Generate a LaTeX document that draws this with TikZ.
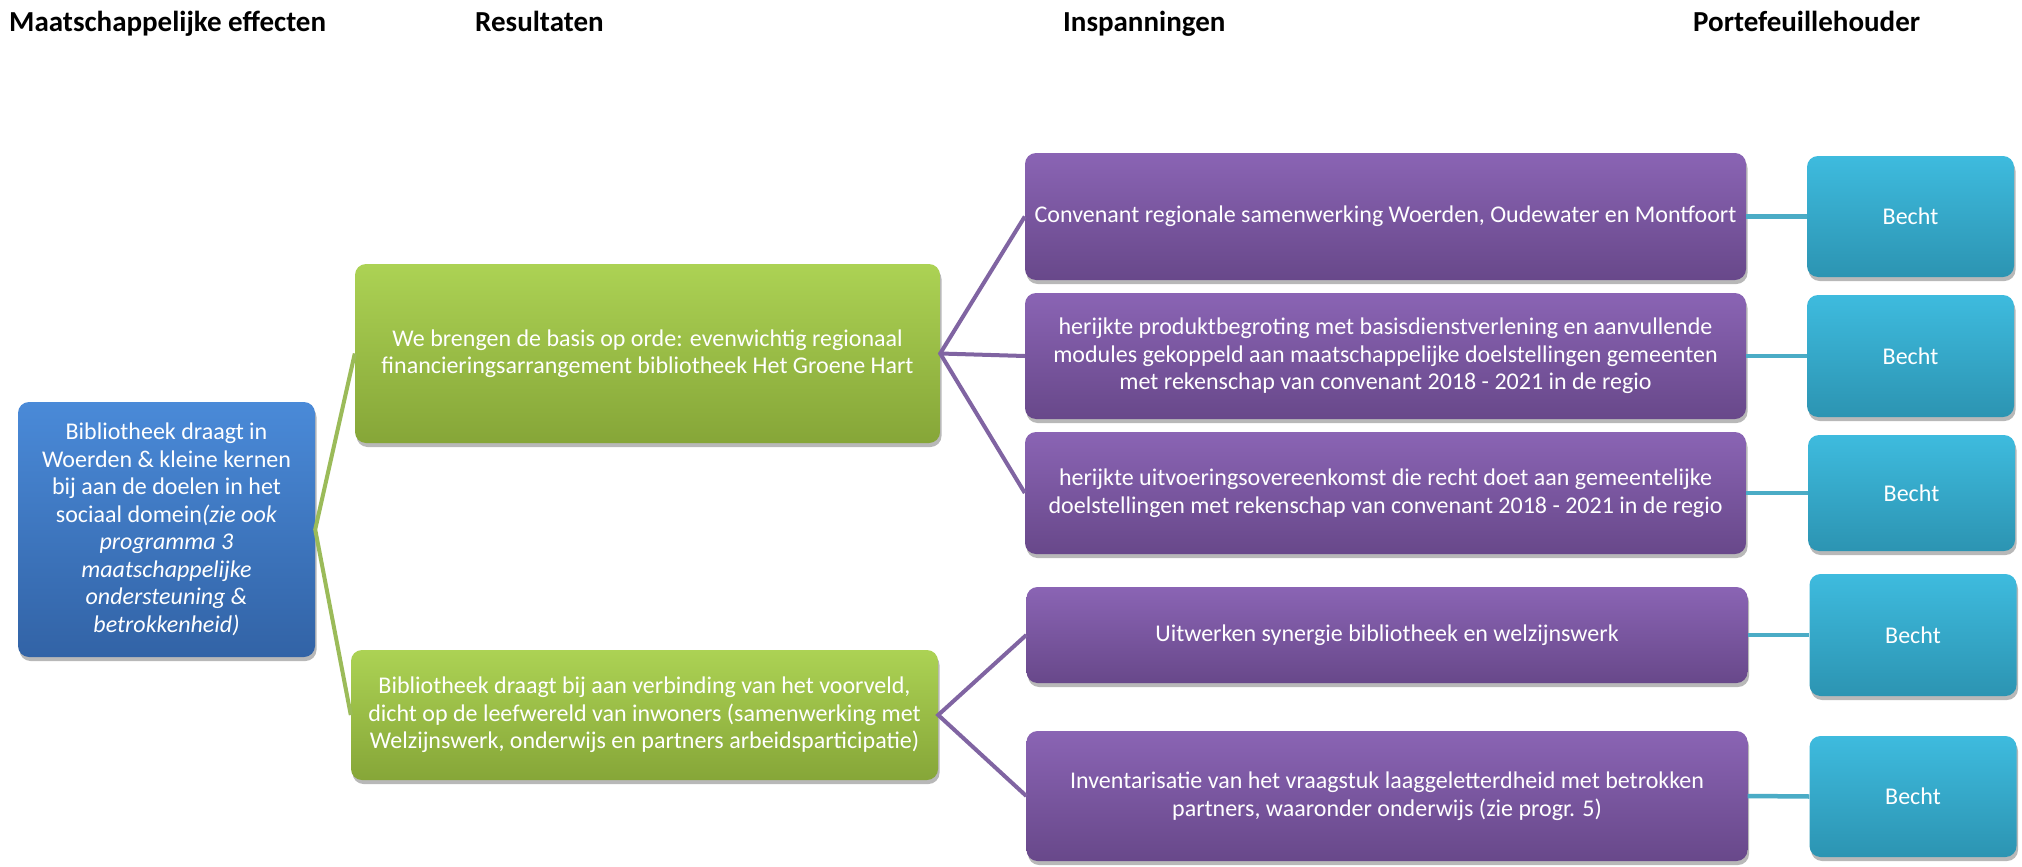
\documentclass[tikz,border=0pt]{standalone}
\usepackage{fontspec}
\setmainfont{Carlito}
\usetikzlibrary{shadows}
\definecolor{bluetop}{RGB}{74,138,216}
\definecolor{bluebot}{RGB}{50,99,166}
\definecolor{greentop}{RGB}{172,210,84}
\definecolor{greenbot}{RGB}{134,166,56}
\definecolor{purpletop}{RGB}{138,100,180}
\definecolor{purplebot}{RGB}{104,72,138}
\definecolor{tealtop}{RGB}{62,187,222}
\definecolor{tealbot}{RGB}{44,148,178}
\definecolor{greenline}{RGB}{155,187,89}
\definecolor{purpleline}{RGB}{128,100,162}
\definecolor{tealline}{RGB}{75,172,198}
\tikzset{
  box/.style={rounded corners=11pt, inner sep=0pt, align=center, text=white,
    font=\fontsize{24}{27.5}\selectfont,
    drop shadow={shadow xshift=1.5pt, shadow yshift=-4pt, opacity=0.28, fill=black}},
  bluebox/.style={box, top color=bluetop, bottom color=bluebot},
  greenbox/.style={box, top color=greentop, bottom color=greenbot},
  purplebox/.style={box, top color=purpletop, bottom color=purplebot, minimum width=721pt},
  tealbox/.style={box, top color=tealtop, bottom color=tealbot, minimum width=207pt},
  header/.style={anchor=base west, inner sep=0pt, font=\fontsize{29}{32}\selectfont\bfseries},
  gline/.style={draw=greenline, line width=4pt},
  pline/.style={draw=purpleline, line width=4pt},
  tline/.style={draw=tealline, line width=4.5pt},
}
\begin{document}
\begin{tikzpicture}[x=1pt, y=-1pt]
\useasboundingbox[fill=white] (0,0) rectangle (2022,867);

\node[header] (h1) at (9,32) {Maatschappelijke effecten};
\node[header] (h2) at (475,32) {Resultaten};
\node[header] (h3) at (1063,32) {Inspanningen};
\node[header] (h4) at (1693,32) {Portefeuillehouder};

\node[bluebox, minimum width=297pt, minimum height=255pt] (b) at (166.5,529.5)
  {Bibliotheek draagt in\\Woerden \& kleine kernen\\bij aan de doelen in het\\sociaal domein\textit{(zie ook}\\\textit{programma 3}\\\textit{maatschappelijke}\\\textit{ondersteuning \&}\\\textit{betrokkenheid)}};

\node[greenbox, minimum width=585pt, minimum height=179pt] (g1) at (647.5,353.5)
  {We brengen de basis op orde: evenwichtig regionaal\\financieringsarrangement bibliotheek Het Groene Hart};
\node[greenbox, minimum width=587pt, minimum height=130pt] (g2) at (644.5,715)
  {Bibliotheek draagt bij aan verbinding van het voorveld,\\dicht op de leefwereld van inwoners (samenwerking met\\Welzijnswerk, onderwijs en partners arbeidsparticipatie)};

\node[purplebox, minimum height=127pt] (p1) at (1385.5,216.5)
  {Convenant regionale samenwerking Woerden, Oudewater en Montfoort};
\node[purplebox, minimum height=126pt] (p2) at (1385.5,356)
  {herijkte produktbegroting met basisdienstverlening en aanvullende\\modules gekoppeld aan maatschappelijke doelstellingen gemeenten\\met rekenschap van convenant 2018 - 2021 in de regio};
\node[purplebox, minimum height=122pt] (p3) at (1385.5,493)
  {herijkte uitvoeringsovereenkomst die recht doet aan gemeentelijke\\doelstellingen met rekenschap van convenant 2018 - 2021 in de regio};
\node[purplebox, minimum height=96pt] (p4) at (1387,635)
  {Uitwerken synergie bibliotheek en welzijnswerk};
\node[purplebox, minimum height=130pt] (p5) at (1387,796)
  {Inventarisatie van het vraagstuk laaggeletterdheid met betrokken\\partners, waaronder onderwijs (zie progr. 5)};

\node[tealbox, minimum height=121pt] (t1) at (1910.5,216.5) {Becht};
\node[tealbox, minimum height=122pt] (t2) at (1910.5,356) {Becht};
\node[tealbox, minimum height=116pt] (t3) at (1911.5,493) {Becht};
\node[tealbox, minimum height=122pt] (t4) at (1913,635) {Becht};
\node[tealbox, minimum height=121pt] (t5) at (1913,796.5) {Becht};

\draw[gline] (g1.west) -- (b.east) -- (g2.west);
\draw[pline] (p1.west) -- (g1.east) -- (p3.west);
\draw[pline] (g1.east) -- (p2.west);
\draw[pline] (p4.west) -- (g2.east) -- (p5.west);
\draw[tline] (p1.east) -- (t1.west);
\draw[tline] (p2.east) -- (t2.west);
\draw[tline] (p3.east) -- (t3.west);
\draw[tline] (p4.east) -- (t4.west);
\draw[tline] (p5.east) -- (t5.west);
\end{tikzpicture}
\end{document}
